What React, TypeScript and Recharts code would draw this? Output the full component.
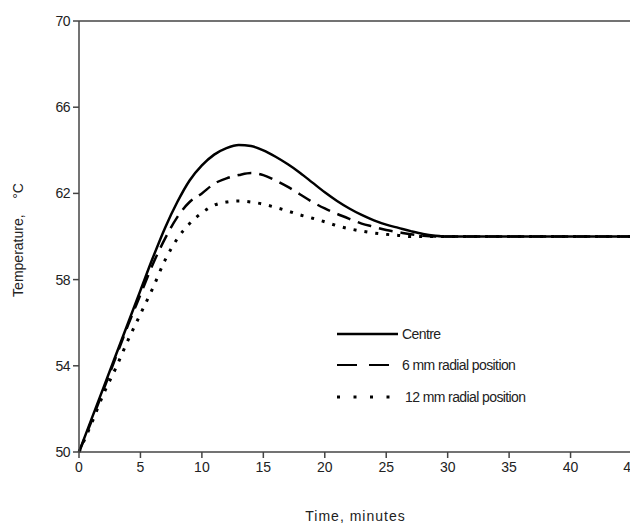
import React from "react";
import {
  LineChart,
  Line,
  XAxis,
  YAxis,
  ReferenceLine,
  Legend,
  Label,
} from "recharts";

const time = [
  0, 1, 2, 3, 4, 5, 6, 7, 8, 9, 10, 11, 12, 13, 14, 15, 16, 17, 18, 19, 20, 21,
  22, 23, 24, 25, 26, 27, 28, 29, 30, 32, 34, 36, 38, 40, 42, 44, 45,
];

const centre = [
  50, 51.5, 53.0, 54.5, 56.0, 57.5, 59.0, 60.4, 61.6, 62.6, 63.3, 63.8, 64.1,
  64.25, 64.2, 64.0, 63.7, 63.35, 62.95, 62.5, 62.05, 61.65, 61.3, 61.0, 60.75,
  60.55, 60.4, 60.25, 60.12, 60.04, 60, 60, 60, 60, 60, 60, 60, 60, 60,
];

const radial6 = [
  50, 51.4, 52.9, 54.4, 55.9, 57.3, 58.7, 59.9, 60.9, 61.6, 62.0, 62.45, 62.7,
  62.85, 62.95, 62.85, 62.6, 62.3, 61.95, 61.6, 61.3, 61.05, 60.82, 60.6, 60.45,
  60.3, 60.2, 60.1, 60.03, 60, 60, 60, 60, 60, 60, 60, 60, 60, 60,
];

const radial12 = [
  50, 51.3, 52.7, 53.9, 55.2, 56.4, 57.6, 58.9, 59.9, 60.6, 61.1, 61.45, 61.6,
  61.65, 61.6, 61.5, 61.35, 61.18, 61.0, 60.85, 60.68, 60.5, 60.36, 60.25,
  60.16, 60.1, 60.05, 60.0, 60, 60, 60, 60, 60, 60, 60, 60, 60, 60, 60,
];

const xTicks = [0, 5, 10, 15, 20, 25, 30, 35, 40, 45];
const yTicks = [50, 54, 58, 62, 66, 70];

const data = time.map((t, i) => ({
  t,
  centre: centre[i],
  r6: radial6[i],
  r12: radial12[i],
}));

const FONT = "'Liberation Sans', Arial, sans-serif";
const AXIS = "#444";
const TEXT = "#222";

function LegendBox({ payload }: any) {
  return (
    <div
      style={{
        fontFamily: FONT,
        fontSize: 14,
        letterSpacing: -0.6,
        color: TEXT,
      }}
    >
      {(payload || []).map((p: any, i: number) => (
        <div
          key={i}
          style={{ display: "flex", alignItems: "center", height: 31.5 }}
        >
          <svg width={p.payload.legendGap} height={10}>
            <line
              x1={1}
              y1={5}
              x2={p.payload.legendLen}
              y2={5}
              stroke="#000"
              strokeWidth={p.payload.legendWidth}
              strokeDasharray={p.payload.legendDash}
            />
          </svg>
          <span>{p.value}</span>
        </div>
      ))}
    </div>
  );
}

export default function App() {
  return (
    <LineChart
      width={630}
      height={517}
      data={data}
      margin={{ top: 13, right: 6, left: 0, bottom: 0 }}
    >
      <XAxis
        dataKey="t"
        type="number"
        domain={[0, 45]}
        ticks={xTicks}
        height={73}
        stroke={AXIS}
        strokeWidth={1.5}
        tickSize={6}
        tickMargin={4}
        tick={{ fill: TEXT, fontSize: 14, fontFamily: FONT }}
      >
        <Label
          value="Time, minutes"
          position="insideBottom"
          offset={4}
          style={{
            fill: TEXT,
            fontSize: 14,
            fontFamily: FONT,
            letterSpacing: 1,
          }}
        />
      </XAxis>
      <YAxis
        type="number"
        domain={[50, 70]}
        ticks={yTicks}
        width={71}
        stroke={AXIS}
        strokeWidth={1.5}
        tickSize={6}
        tickMargin={3}
        tick={{ fill: TEXT, fontSize: 14, fontFamily: FONT, letterSpacing: -0.5 }}
      >
        <Label
          content={() => (
            <text
              x={11}
              y={232}
              transform="rotate(-90, 11, 232)"
              textAnchor="middle"
              dominantBaseline="middle"
              fill={TEXT}
              fontSize={14}
              fontFamily={FONT}
            >
              Temperature,{"\u00a0\u00a0\u00a0\u00a0"}°C
            </text>
          )}
        />
      </YAxis>
      <ReferenceLine y={70} stroke={AXIS} strokeWidth={1.5} />
      <ReferenceLine x={45} stroke={AXIS} strokeWidth={1.5} />
      <Line
        type="monotone"
        dataKey="r12"
        name="12 mm radial position"
        stroke="#000"
        strokeWidth={3}
        strokeDasharray="3 8"
        dot={false}
        isAnimationActive={false}
        legendDash="3 13.5"
        legendLen={65}
        legendGap={69}
        legendWidth={3}
      />
      <Line
        type="monotone"
        dataKey="r6"
        name="6 mm radial position"
        stroke="#000"
        strokeWidth={2.5}
        strokeDasharray="14 8"
        dot={false}
        isAnimationActive={false}
        legendDash="20 12"
        legendLen={56}
        legendGap={66}
        legendWidth={2}
      />
      <Line
        type="monotone"
        dataKey="centre"
        name="Centre"
        stroke="#000"
        strokeWidth={2.5}
        dot={false}
        isAnimationActive={false}
        legendLen={62}
        legendGap={66}
        legendWidth={2.5}
      />
      <Legend
        layout="vertical"
        align="center"
        verticalAlign="middle"
        content={LegendBox}
        itemSorter={(item: any) =>
          item.value === "Centre" ? 0 : item.value.startsWith("6") ? 1 : 2
        }
        wrapperStyle={{ position: "absolute", left: 328, top: 310, width: 250 }}
      />
    </LineChart>
  );
}
